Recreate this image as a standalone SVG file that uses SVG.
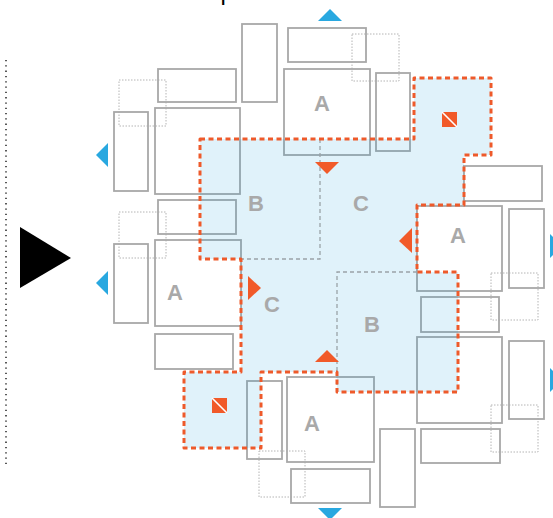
<svg xmlns="http://www.w3.org/2000/svg" width="553" height="518" viewBox="0 0 553 518">
<style>
.box{fill:none;stroke:#a8a8a8;stroke-width:1.8}
.dot{fill:none;stroke:#b4b4b4;stroke-width:1;stroke-dasharray:1.5 1.5}
.lbl{font-family:"Liberation Sans",Arial,sans-serif;font-weight:bold;font-size:22px;fill:#a9a9a9;text-anchor:middle}
.blue{fill:#29a8e0}
.org{fill:#f15a29}
.gdash{fill:none;stroke:#9aa3a8;stroke-width:1.3;stroke-dasharray:4 3}
</style>
<rect width="553" height="518" fill="#ffffff"/>
<text x="220.4" y="0" font-family="Liberation Sans, Arial, sans-serif" font-size="24" fill="#000">p</text>
<line x1="6" y1="60" x2="6" y2="467" stroke="#000" stroke-width="1.3" stroke-dasharray="1.3 4"/>
<polygon points="20,227 71,258 20,288" fill="#000"/>
<g id="dotted">
<rect class="dot" x="352" y="34" width="47" height="47"/>
<rect class="dot" x="119" y="80" width="47" height="46"/>
<rect class="dot" x="119" y="212" width="47" height="46"/>
<rect class="dot" x="491" y="273" width="47" height="47"/>
<rect class="dot" x="491" y="405" width="47" height="47"/>
<rect class="dot" x="259" y="451" width="46" height="46"/>
</g>
<g id="boxes">
<rect id="n1" class="box" x="242" y="24" width="35" height="78"/>
<rect id="n2" class="box" x="288" y="28" width="78" height="34"/>
<rect id="n3" class="box" x="158" y="69" width="78" height="33"/>
<rect id="n4" class="box" x="284" y="69" width="86" height="86"/>
<rect id="n5" class="box" x="376" y="73" width="34" height="78"/>
<rect id="n6" class="box" x="114" y="112" width="34" height="79"/>
<rect id="n7" class="box" x="155" y="108" width="85" height="86"/>
<rect id="n8" class="box" x="464" y="166" width="78" height="35"/>
<rect id="n9" class="box" x="158" y="200" width="78" height="34"/>
<rect id="n10" class="box" x="114" y="244" width="34" height="79"/>
<rect id="n11" class="box" x="155" y="240" width="86" height="86"/>
<rect id="n12" class="box" x="417" y="206" width="85" height="85"/>
<rect id="n13" class="box" x="509" y="209" width="35" height="79"/>
<rect id="n14" class="box" x="421" y="297" width="78" height="35"/>
<rect id="n15" class="box" x="417" y="337" width="85" height="86"/>
<rect id="n16" class="box" x="509" y="341" width="35" height="78"/>
<rect id="n17" class="box" x="155" y="334" width="78" height="35"/>
<rect id="n18" class="box" x="247" y="381" width="35" height="78"/>
<rect id="n19" class="box" x="287" y="377" width="87" height="85"/>
<rect id="n20" class="box" x="291" y="469" width="79" height="34"/>
<rect id="n21" class="box" x="380" y="429" width="35" height="78"/>
<rect id="n22" class="box" x="421" y="429" width="79" height="34"/>
</g>
<g id="region">
<path d="M200,139 H414 V78 H491 V155 H464 V205 H417 V272 H458 V392 H337 V372 H261 V448 H184 V372 H241 V259 H200 Z" fill="rgb(0,150,210)" fill-opacity="0.12"/>
</g>
<g id="connectors">
<path class="gdash" d="M320,139 V259 H241"/>
<path class="gdash" d="M417,272 H337 V392"/>
</g>
<g id="outline">
<path d="M200,139 H414 V78 H491 V155 H464 V205 H417 V272 H458 V392 H337 V372 H261 V448 H184 V372 H241 V259 H200 Z" fill="none" stroke="#ee5a2b" stroke-width="3" stroke-dasharray="5 3.5" stroke-linejoin="round"/>
</g>
<g id="markers">
<polygon class="blue" points="318,21 342,21 330,9"/>
<polygon class="blue" points="318,508 342,508 330,520"/>
<polygon class="blue" points="108,143 108,167 96,155"/>
<polygon class="blue" points="108,271 108,295 96,283"/>
<polygon class="blue" points="550,234 550,258 562,246"/>
<polygon class="blue" points="550,368 550,392 562,380"/>
<polygon class="org" points="315,162 339,162 327,174"/>
<polygon class="org" points="315,362 339,362 327,350"/>
<polygon class="org" points="248,276 248,300 261,288"/>
<polygon class="org" points="412,228 412,253 399,241"/>
</g>
<g id="icon1">
<rect class="org" x="442" y="112" width="15" height="15"/>
<line x1="442" y1="112" x2="457" y2="127" stroke="#fff" stroke-width="1.6"/>
</g>
<g id="icon2">
<rect class="org" x="212" y="398" width="15" height="15"/>
<line x1="212" y1="398" x2="227" y2="413" stroke="#fff" stroke-width="1.6"/>
</g>
<g id="labels">
<text class="lbl" x="322" y="111">A</text>
<text class="lbl" x="256" y="211">B</text>
<text class="lbl" x="361" y="211">C</text>
<text class="lbl" x="175" y="300">A</text>
<text class="lbl" x="272" y="312">C</text>
<text class="lbl" x="458" y="243">A</text>
<text class="lbl" x="372" y="332">B</text>
<text class="lbl" x="312" y="431">A</text>
</g>
</svg>
